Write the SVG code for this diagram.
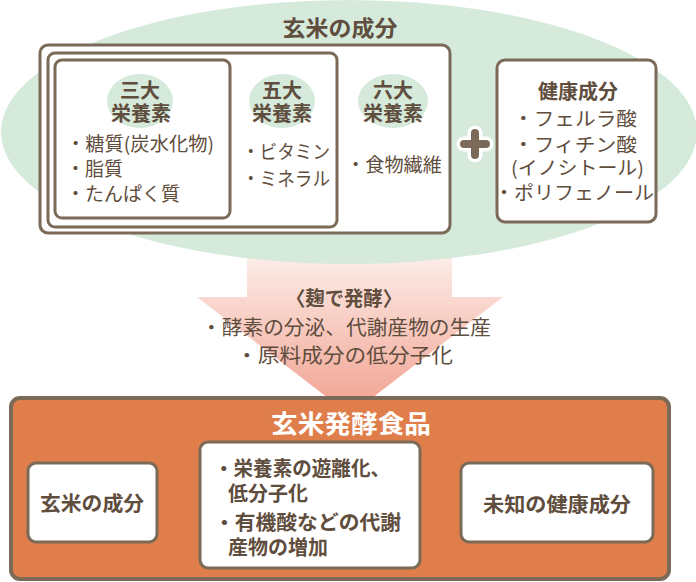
<svg xmlns="http://www.w3.org/2000/svg" width="696" height="582" viewBox="0 0 696 582">
<defs>
<linearGradient id="ag" x1="0" y1="250" x2="0" y2="415" gradientUnits="userSpaceOnUse">
<stop offset="0" stop-color="#fdf0ec"/>
<stop offset="1" stop-color="#f19f8e"/>
</linearGradient>
<g id="plus">
<path d="M-11,0 H11 M0,-11 V11" stroke="#ffffff" stroke-width="15" stroke-linecap="round" fill="none"/>
<path d="M-11,0 H11 M0,-11 V11" stroke="#7a6a57" stroke-width="8" stroke-linecap="round" fill="none"/>
</g>
</defs>
<style>
text{font-family:"Noto Sans CJK JP","Noto Sans CJK SC",sans-serif;fill:#5f4d3d}
.t{font-size:19px}
.b{font-weight:bold}
.box{fill:#ffffff;stroke:#7a6a57;stroke-width:3}
.lab{fill:#d5eadb}
</style>
<rect width="696" height="582" fill="#ffffff"/>
<g id="arrow">
<polygon points="247,250 452,250 452,297 503,297 350,415 197,297 247,297" fill="url(#ag)"/>
</g>
<g id="rice">
<ellipse cx="349" cy="132" rx="348" ry="132" fill="#d5eadb"/>
<text x="340" y="36" text-anchor="middle" class="b" font-size="22" textLength="115" lengthAdjust="spacingAndGlyphs">玄米の成分</text>
<rect x="40" y="45" width="410" height="188" rx="8" class="box"/>
<rect x="48" y="53" width="289" height="174" rx="7" class="box"/>
<rect x="55" y="60" width="175" height="158" rx="7" class="box"/>
</g>
<g id="three">
<ellipse cx="140" cy="101" rx="33" ry="27" class="lab"/>
<text x="140" y="98" text-anchor="middle" class="b" font-size="20">三大</text>
<text x="141" y="121" text-anchor="middle" class="b" font-size="20">栄養素</text>
<text x="66" y="151" class="t" textLength="148" lengthAdjust="spacingAndGlyphs">・糖質(炭水化物)</text>
<text x="66" y="176" class="t">・脂質</text>
<text x="66" y="201" class="t">・たんぱく質</text>
</g>
<g id="five">
<ellipse cx="282" cy="101" rx="33" ry="27" class="lab"/>
<text x="282" y="98" text-anchor="middle" class="b" font-size="20">五大</text>
<text x="282" y="121" text-anchor="middle" class="b" font-size="20">栄養素</text>
<text x="242" y="159" class="t" textLength="88" lengthAdjust="spacingAndGlyphs">・ビタミン</text>
<text x="242" y="186" class="t" textLength="88" lengthAdjust="spacingAndGlyphs">・ミネラル</text>
</g>
<g id="six">
<ellipse cx="393" cy="101" rx="35" ry="27" class="lab"/>
<text x="393" y="98" text-anchor="middle" class="b" font-size="20">六大</text>
<text x="393" y="121" text-anchor="middle" class="b" font-size="20">栄養素</text>
<text x="346" y="172" class="t" textLength="96" lengthAdjust="spacingAndGlyphs">・食物繊維</text>
</g>
<g id="health">
<rect x="497" y="60" width="159" height="162" rx="8" class="box"/>
<text x="578" y="99" text-anchor="middle" class="b" font-size="20">健康成分</text>
<text x="513" y="126" class="t" textLength="124" lengthAdjust="spacingAndGlyphs">・フェルラ酸</text>
<text x="513" y="152" class="t" textLength="124" lengthAdjust="spacingAndGlyphs">・フィチン酸</text>
<text x="511" y="175" class="t" textLength="133" lengthAdjust="spacingAndGlyphs">(イノシトール)</text>
<text x="494" y="200" class="t" textLength="160" lengthAdjust="spacingAndGlyphs">・ポリフェノール</text>
</g>
<g id="connectors">
<use href="#plus" x="475" y="144"/>
<use href="#plus" x="179" y="502"/>
<use href="#plus" x="440" y="502"/>
</g>
<g id="process">
<text x="344" y="306" text-anchor="middle" class="b" font-size="20" textLength="116" lengthAdjust="spacingAndGlyphs">〈麹で発酵〉</text>
<text x="201" y="335" font-size="20" textLength="290" lengthAdjust="spacingAndGlyphs">・酵素の分泌、代謝産物の生産</text>
<text x="236" y="363" font-size="20" textLength="217" lengthAdjust="spacingAndGlyphs">・原料成分の低分子化</text>
</g>
<g id="food">
<rect x="11" y="398" width="658" height="181" rx="9" fill="#e07e4b" stroke="#7a6a57" stroke-width="4"/>
<text x="351" y="433" text-anchor="middle" class="b" font-size="25" style="fill:#ffffff" textLength="160" lengthAdjust="spacingAndGlyphs">玄米発酵食品</text>
</g>
<g id="b1">
<rect x="28" y="463" width="129" height="79" rx="8" class="box"/>
<text x="92" y="511" text-anchor="middle" font-size="20" font-weight="600" textLength="104" lengthAdjust="spacingAndGlyphs">玄米の成分</text>
</g>
<g id="b2">
<rect x="200" y="442" width="220" height="126" rx="8" class="box"/>
<text x="214" y="476" font-size="20" font-weight="600" textLength="176" lengthAdjust="spacingAndGlyphs">・栄養素の遊離化、</text>
<text x="228" y="501" font-size="20" font-weight="600">低分子化</text>
<text x="214" y="530" font-size="20" font-weight="600" textLength="187" lengthAdjust="spacingAndGlyphs">・有機酸などの代謝</text>
<text x="228" y="555" font-size="20" font-weight="600">産物の増加</text>
</g>
<g id="b3">
<rect x="461" y="463" width="192" height="79" rx="8" class="box"/>
<text x="557" y="512" text-anchor="middle" font-size="20" font-weight="600" textLength="148" lengthAdjust="spacingAndGlyphs">未知の健康成分</text>
</g>
</svg>
